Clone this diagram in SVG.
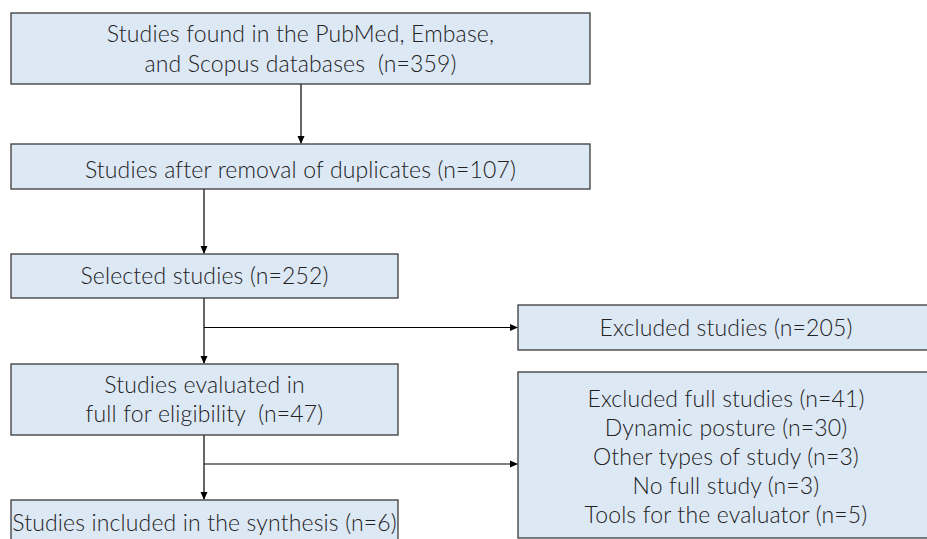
<svg xmlns="http://www.w3.org/2000/svg" width="927" height="539" viewBox="0 0 927 539">
<defs>
<style>
.box{fill:#dde8f5;stroke:#3a3a3a;stroke-width:1.3}
.t{font-family:Lato,"Open Sans","Liberation Sans",sans-serif;font-weight:300;font-size:23px;letter-spacing:0.15px;fill:#222;text-anchor:middle}
.c{stroke:#000;stroke-width:1.2;fill:none}
</style>
<marker id="ah" markerWidth="8" markerHeight="8" refX="7" refY="4" orient="auto" markerUnits="userSpaceOnUse">
<path d="M0,0.5 L8,4 L0,7.5 Z" fill="#000"/>
</marker>
</defs>
<rect width="927" height="539" fill="#fff"/>
<g id="connectors">
<path class="c" d="M301,84 V143" marker-end="url(#ah)"/>
<path class="c" d="M204,189 V253" marker-end="url(#ah)"/>
<path class="c" d="M204,298 V363" marker-end="url(#ah)"/>
<path class="c" d="M204,327.5 H517" marker-end="url(#ah)"/>
<path class="c" d="M204,435 V499" marker-end="url(#ah)"/>
<path class="c" d="M204,464 H517" marker-end="url(#ah)"/>
</g>
<g id="n1"><rect class="box" x="11" y="13" width="579" height="71"/>
<text class="t" x="300.5" y="42">Studies found in the PubMed, Embase,</text>
<text class="t" x="300.5" y="72" xml:space="preserve">and Scopus databases  (n=359)</text></g>
<g id="n2"><rect class="box" x="11" y="144" width="579" height="45"/>
<text class="t" x="300.5" y="178">Studies after removal of duplicates (n=107)</text></g>
<g id="n3"><rect class="box" x="11" y="254" width="387" height="44"/>
<text class="t" x="204.5" y="284">Selected studies (n=252)</text></g>
<g id="n4"><rect class="box" x="11" y="364" width="387" height="71"/>
<text class="t" x="204.5" y="393">Studies evaluated in</text>
<text class="t" x="204.5" y="422" xml:space="preserve">full for eligibility  (n=47)</text></g>
<g id="n5"><rect class="box" x="11" y="500" width="387" height="50"/>
<text class="t" x="204.5" y="531">Studies included in the synthesis (n=6)</text></g>
<g id="n6"><rect class="box" x="518" y="305" width="420" height="45"/>
<text class="t" x="726" y="336">Excluded studies (n=205)</text></g>
<g id="n7"><rect class="box" x="518" y="372" width="420" height="166"/>
<text class="t" x="726" y="407">Excluded full studies (n=41)</text>
<text class="t" x="726" y="436">Dynamic posture (n=30)</text>
<text class="t" x="726" y="465">Other types of study (n=3)</text>
<text class="t" x="726" y="494">No full study (n=3)</text>
<text class="t" x="726" y="523">Tools for the evaluator (n=5)</text></g>
</svg>
